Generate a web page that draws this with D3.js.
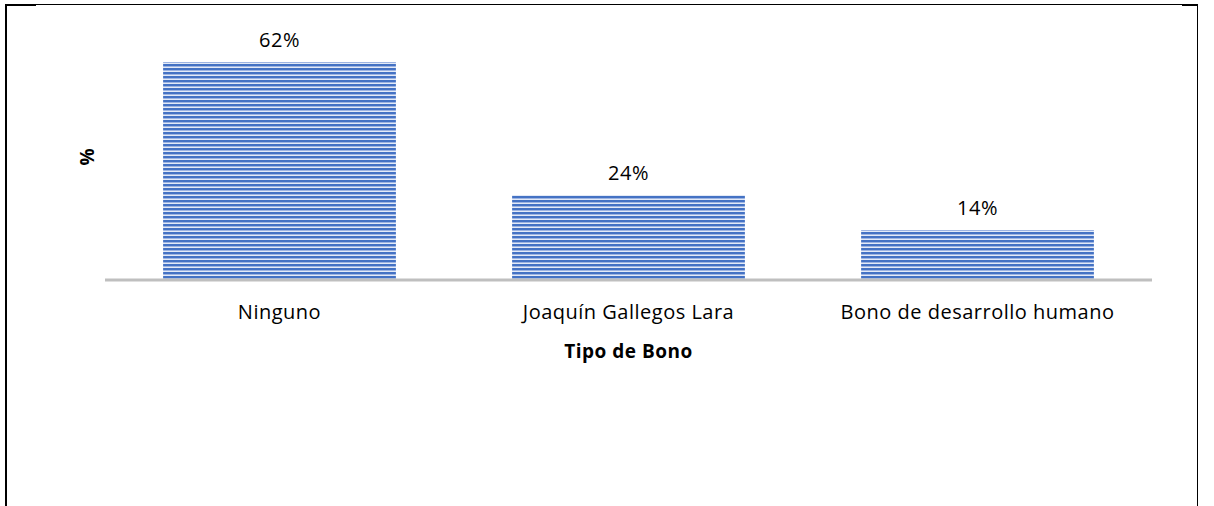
<!DOCTYPE html>
<html><head><meta charset="utf-8">
<script src="https://cdn.jsdelivr.net/npm/d3@7"></script>
<style>html,body{margin:0;padding:0;background:#fff;}svg{display:block;}</style>
</head><body>
<svg id="c" width="1214" height="506"></svg>
<script>
const categories = ["Ninguno", "Joaquín Gallegos Lara", "Bono de desarrollo humano"];
const values = [62, 24, 14];
const valueLabels = ["62%", "24%", "14%"];
const xTitle = "Tipo de Bono";
const yTitle = "%";

const svg = d3.select("#c");
const font = "'Open Sans', sans-serif";
const fs = 20;

// frame
const frame = svg.append("g");
frame.append("line").attr("x1",6).attr("x2",1198).attr("y1",4.5).attr("y2",4.5).attr("stroke","#000").attr("stroke-width",1);
frame.append("line").attr("x1",5).attr("x2",36).attr("y1",5).attr("y2",5).attr("stroke","#000").attr("stroke-width",2);
frame.append("line").attr("x1",1182).attr("x2",1198).attr("y1",5).attr("y2",5).attr("stroke","#000").attr("stroke-width",2);
frame.append("line").attr("x1",6).attr("x2",6).attr("y1",4).attr("y2",506).attr("stroke","#000").attr("stroke-width",2);
frame.append("line").attr("x1",1197.5).attr("x2",1197.5).attr("y1",4).attr("y2",506).attr("stroke","#000").attr("stroke-width",1);

// pattern
const defs = svg.append("defs");
const pat = defs.append("pattern").attr("id","stripes").attr("patternUnits","userSpaceOnUse")
  .attr("width",8).attr("height",4);
pat.append("rect").attr("width",8).attr("height",4).attr("fill","#4472C4");
pat.append("rect").attr("y",2).attr("width",8).attr("height",1).attr("fill","#9db4e2");
pat.append("rect").attr("y",3).attr("width",8).attr("height",1).attr("fill","#e3eaf7");

const x = d3.scaleBand().domain(categories).range([105, 1152]).paddingInner(0.333).paddingOuter(0.1665);
const y = d3.scaleLinear().domain([0, 70]).range([279, 34]);

svg.append("g").selectAll("rect").data(values).join("rect")
  .attr("x",(d,i)=>x(categories[i]))
  .attr("width",x.bandwidth())
  .attr("y",d=>y(d))
  .attr("height",d=>y(0)-y(d))
  .attr("fill","url(#stripes)");

// axis line
const axis = svg.append("g").attr("transform",`translate(0,${y(0)+1})`)
  .call(d3.axisBottom(x).tickSize(0).tickPadding(0));
axis.select(".domain").attr("stroke","#bfbfbf").attr("stroke-width",3).attr("d","M105,0H1152");
axis.selectAll("text").attr("font-family",font).attr("font-size",fs).attr("fill","#000")
  .attr("letter-spacing",0.5).attr("dy",null).attr("y",39);

// value labels
svg.append("g").selectAll("text").data(values).join("text")
  .attr("x",(d,i)=>x(categories[i])+x.bandwidth()/2)
  .attr("y",d=>y(d)-15)
  .attr("text-anchor","middle")
  .attr("font-family",font).attr("font-size",fs).attr("fill","#000")
  .attr("letter-spacing",0.5)
  .text((d,i)=>valueLabels[i]);

svg.append("text").attr("x",(105+1152)/2).attr("y",358).attr("text-anchor","middle")
  .attr("font-family",font).attr("font-size",19).attr("font-weight","bold").attr("letter-spacing",0.5).text(xTitle);

svg.append("text").attr("transform","translate(94,157) rotate(-90)").attr("text-anchor","middle")
  .attr("font-family",font).attr("font-size",19).attr("font-weight","bold").text(yTitle);
</script>
</body></html>
